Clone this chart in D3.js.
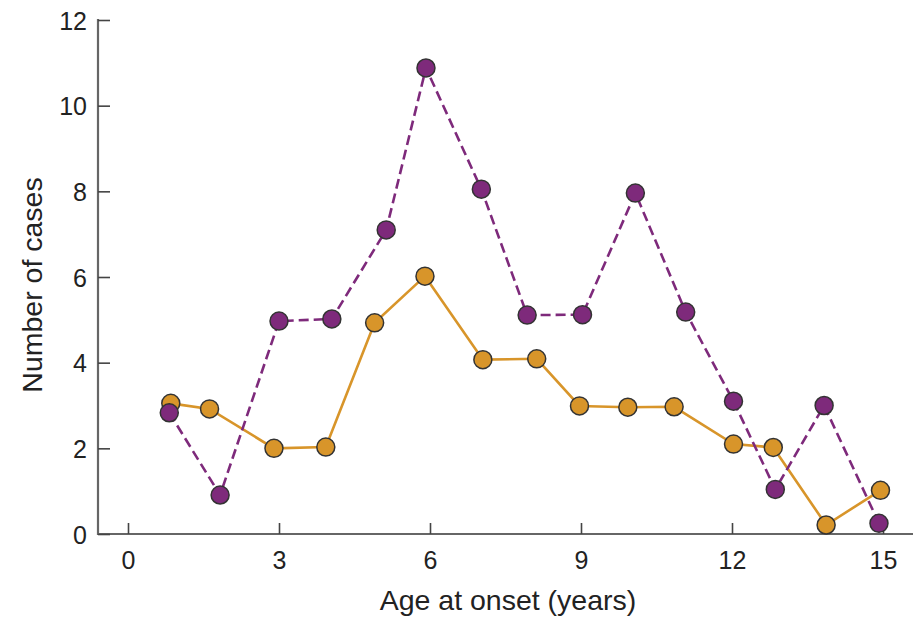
<!DOCTYPE html>
<html lang="en">
<head>
  <meta charset="UTF-8">
  <title>Age at onset</title>
  <style>
    * { box-sizing: border-box; margin: 0; }
    body { background: #fff; }
    svg { display: block; }
    text { font-family: "Liberation Sans", Arial, sans-serif; fill: #222; }
  </style>
</head>
<body>
  <svg></svg>
  <script src="https://d3js.org/d3.v7.min.js"></script>
  <script>
    // values
    const orangeAge = [0.85, 1.62, 2.9, 3.93, 4.9, 5.9, 7.05, 8.12, 8.97, 9.93, 10.85, 12.03, 12.82, 13.87, 14.95];
    const orangeCases = [3.05, 2.92, 2.0, 2.03, 4.93, 6.02, 4.07, 4.09, 2.99, 2.96, 2.97, 2.1, 2.02, 0.21, 1.02];
    const purpleAge = [0.82, 1.83, 3.0, 4.05, 5.13, 5.92, 7.02, 7.93, 9.03, 10.08, 11.08, 12.03, 12.86, 13.83, 14.92];
    const purpleCases = [2.83, 0.91, 4.97, 5.02, 7.1, 10.88, 8.05, 5.11, 5.12, 7.96, 5.18, 3.1, 1.04, 3.0, 0.25];
    const xTicks = [0, 3, 6, 9, 12, 15];
    const yTicks = [0, 2, 4, 6, 8, 10, 12];

    const width = 913;
    const height = 618;
    const purple = '#7e2a7b';
    const orange = '#d8952a';

    const svg = d3.select('svg')
      .attr('width', width)
      .attr('height', height);

    const x = d3.scaleLinear().domain([0, 15]).range([128, 883]);
    const y = d3.scaleLinear().domain([0, 12]).range([534, 20]);
    const axisLeft = 98;

    // x axis line, runs to the right edge
    svg.append('line')
      .attr('x1', axisLeft).attr('x2', width)
      .attr('y1', y(0)).attr('y2', y(0))
      .attr('stroke', '#666').attr('stroke-width', 2.2);

    // y axis line
    svg.append('line')
      .attr('x1', axisLeft).attr('x2', axisLeft)
      .attr('y1', y(12) - 1).attr('y2', y(0) + 1)
      .attr('stroke', '#666').attr('stroke-width', 2.2);

    const xAxis = svg.append('g')
      .attr('transform', 'translate(0,' + y(0) + ')')
      .call(d3.axisTop(x).tickValues(xTicks).tickSize(11).tickFormat(d3.format('d')));
    xAxis.select('.domain').remove();
    xAxis.selectAll('line').attr('stroke', '#444').attr('stroke-width', 1.6);
    xAxis.selectAll('text')
      .attr('y', 35)
      .attr('dy', '0')
      .attr('font-size', 25)
      .attr('fill', '#222');

    const yAxis = svg.append('g')
      .attr('transform', 'translate(' + axisLeft + ',0)')
      .call(d3.axisRight(y).tickValues(yTicks).tickSize(12).tickFormat(d3.format('d')));
    yAxis.select('.domain').remove();
    yAxis.selectAll('line').attr('stroke', '#444').attr('stroke-width', 1.6);
    yAxis.selectAll('text')
      .attr('x', -11)
      .attr('dy', '0.36em')
      .attr('text-anchor', 'end')
      .attr('font-size', 25)
      .attr('fill', '#222');

    svg.append('text')
      .attr('x', 508)
      .attr('y', 610)
      .attr('text-anchor', 'middle')
      .attr('font-size', 28.5)
      .text('Age at onset (years)');

    svg.append('text')
      .attr('transform', 'translate(42,' + 285 + ') rotate(-90)')
      .attr('text-anchor', 'middle')
      .attr('font-size', 28.5)
      .text('Number of cases');

    function drawSeries(ages, cases, color, dash) {
      const pts = ages.map((a, i) => [a, cases[i]]);
      const line = d3.line().x(d => x(d[0])).y(d => y(d[1]));
      svg.append('path')
        .datum(pts)
        .attr('d', line)
        .attr('fill', 'none')
        .attr('stroke', color)
        .attr('stroke-width', 2.6)
        .attr('stroke-dasharray', dash);
      svg.append('g')
        .selectAll('circle')
        .data(pts)
        .join('circle')
        .attr('cx', d => x(d[0]))
        .attr('cy', d => y(d[1]))
        .attr('r', 9)
        .attr('fill', color)
        .attr('stroke', '#333')
        .attr('stroke-width', 1.5);
    }

    drawSeries(orangeAge, orangeCases, orange, null);
    drawSeries(purpleAge, purpleCases, purple, '10,5');
  </script>
</body>
</html>
